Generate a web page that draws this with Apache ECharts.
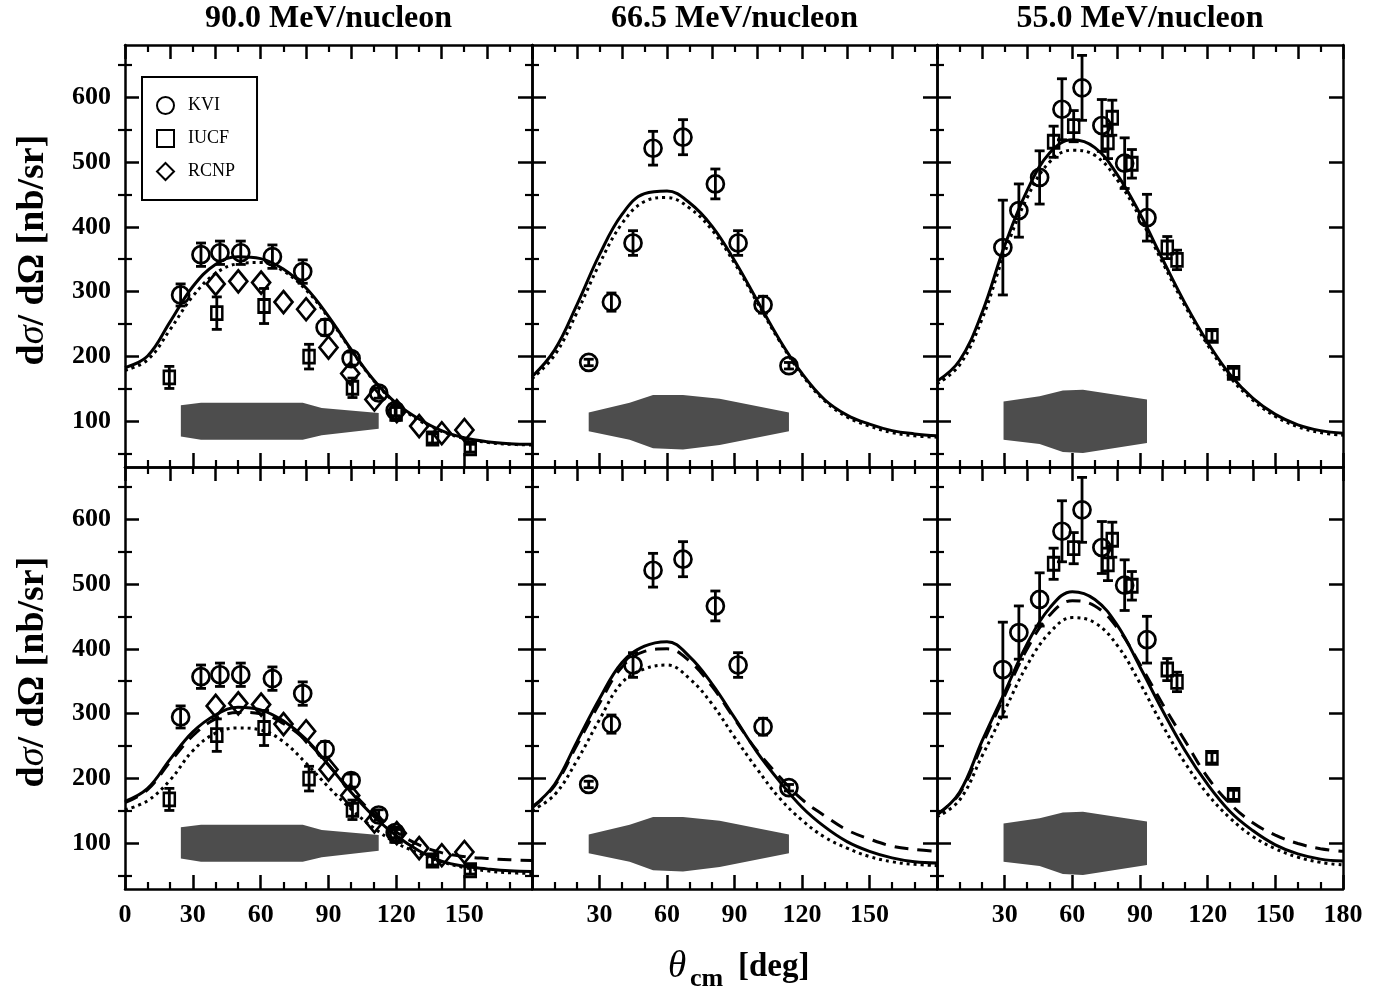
<!DOCTYPE html>
<html><head><meta charset="utf-8">
<script src="https://cdn.jsdelivr.net/npm/echarts@6/dist/echarts.min.js"></script>
<style>html,body{margin:0;padding:0;background:#fff}#c{width:1393px;height:994px}</style>
</head><body><div id="c"></div>
<script>
// ---------------- data ----------------
const panelTitles = ['90.0 MeV/nucleon', '66.5 MeV/nucleon', '55.0 MeV/nucleon'];
const angles = [0,10,20,30,40,50,60,70,80,90,100,110,120,130,140,150,160,170,180];

// theory curves (values at the angles above)
const solid90Top  = [183,201,254,308,342,354,351,335,306,262,211,164,128,104,86,75,69,66,65];
const dotted90Top = [179,195,242,293,328,343,345,332,303,260,210,163,127,102,85,74,68,65,64];
const solid90Bot  = [165,185,230,272,298,310,306,289,261,221,179,142,112,89,73,65,61,58,57];
const dashed90Bot = [163,183,226,266,292,302,300,285,259,221,181,146,118,98,86,80,77,75,74];
const dotted90Bot = [152,166,198,243,270,278,275,257,224,187,153,124,101,85,72,63,58,55,54];

const solid66Top  = [169,210,280,357,419,451,455,437,401,348,287,226,174,134,110,96,86,81,78];
const dotted66Top = [166,202,268,343,405,439,445,429,395,344,284,224,172,132,107,93,83,78,76];
const solid66Bot  = [156,191,257,323,379,404,411,388,346,294,241,196,156,126,103,88,78,72,70];
const dashed66Bot = [155,189,252,316,372,396,400,381,342,292,243,203,168,143,121,107,96,91,88];
const dotted66Bot = [151,175,228,291,348,369,375,354,315,264,215,170,136,110,93,80,72,68,66];

const solid55Top  = [162,194,268,371,456,514,534,522,480,420,350,282,222,172,136,111,95,86,82];
const dotted55Top = [158,187,258,360,445,500,518,510,472,414,345,278,218,168,133,108,92,83,79];
const solid55Bot  = [144,179,258,333,408,463,488,476,436,372,305,243,191,149,120,98,84,76,73];
const dashed55Bot = [145,177,252,328,400,452,474,466,432,376,315,258,202,161,132,113,100,92,88];
const dotted55Bot = [141,167,235,305,375,425,448,440,405,347,282,224,176,139,111,92,79,71,67];

// measurements: [angle, value, error]
const kvi90  = [[24.6,295,17],[33.6,357,18],[42.0,360,18],[51.2,360,18],[65.2,354,18],[78.6,331,18],[88.5,245,12],[100.0,197,10],[112.2,144,8],[119.5,117,8]];
const iucf90 = [[19.6,168,17],[40.6,267,25],[61.5,278,27],[81.4,200,19],[100.6,152,15],[119.9,112,10],[136.0,74,7],[152.7,59,6]];
const rcnp90 = [[40.1,312],[50.1,316],[60.2,314],[70.1,284],[80.1,273],[90.0,214],[99.6,174],[110.3,134],[120.2,116],[130.1,93],[140.1,82],[150.1,87]];
const kvi66  = [[25.2,191,5],[35.3,284,14],[44.9,375,19],[53.8,521,26],[67.1,538,27],[81.5,466,23],[91.6,375,19],[102.7,280,13],[114.2,186,5]];
const kvi55  = [[29.2,368,73],[36.3,425,41],[45.5,476,41],[55.4,581,47],[64.3,614,50],[73.1,556,40],[83.2,498,39],[93.1,414,36]];
const iucf55 = [[51.7,531,24],[60.6,555,24],[75.8,530,25],[77.7,568,27],[86.4,497,22],[102.1,368,17],[106.4,349,15],[121.9,232,8],[131.5,175,7]];

// grey bands
const band90Angle = [24.7,33.6,78.6,87.0,112.2];
const band90Upper = [125,129,129,121,113];
const band90Lower = [77,72,72,79,89];
const band66Angle = [25.2,43.4,53.8,67.1,83.4,114.2];
const band66Upper = [114,129,141,141,135,114];
const band66Lower = [85,72,59,57,64,85];
const band55Angle = [29.5,45.5,55.8,64.7,93.1];
const band55Upper = [131,139,148,149,134];
const band55Lower = [72,65.5,53,51.5,67];

// ticks
const xTickLabels = [[0,30,60,90,120,150],[30,60,90,120,150],[30,60,90,120,150,180]];
const yTickLabels = [100,200,300,400,500,600];
const yMinorTicks = [50,150,250,350,450,550,650];

// ---------------- layout ----------------
const FONT = '"Liberation Serif", "Times New Roman", serif';
const gridLeft = [125, 532, 937];
const gridWidth = [407, 405, 406];
const gridTop = [45, 467];
const gridHeight = 422;

const panels = [
  {row:0,col:0, curves:[['solid',solid90Top],['dotted',dotted90Top]], kvi:kvi90, iucf:iucf90, rcnp:rcnp90, band:[band90Angle,band90Upper,band90Lower]},
  {row:0,col:1, curves:[['solid',solid66Top],['dotted',dotted66Top]], kvi:kvi66, band:[band66Angle,band66Upper,band66Lower]},
  {row:0,col:2, curves:[['solid',solid55Top],['dotted',dotted55Top]], kvi:kvi55, iucf:iucf55, band:[band55Angle,band55Upper,band55Lower]},
  {row:1,col:0, curves:[['solid',solid90Bot],['dashed',dashed90Bot],['dotted',dotted90Bot]], kvi:kvi90, iucf:iucf90, rcnp:rcnp90, band:[band90Angle,band90Upper,band90Lower]},
  {row:1,col:1, curves:[['solid',solid66Bot],['dashed',dashed66Bot],['dotted',dotted66Bot]], kvi:kvi66, band:[band66Angle,band66Upper,band66Lower]},
  {row:1,col:2, curves:[['solid',solid55Bot],['dashed',dashed55Bot],['dotted',dotted55Bot]], kvi:kvi55, iucf:iucf55, band:[band55Angle,band55Upper,band55Lower]}
];

const lineTypes = {solid:'solid', dashed:[14,9], dotted:[3,4]};
const axisLineStyle = {color:'#000', width:2.5};

function bandRenderer(xs, hi, lo) {
  return function (params, api) {
    const pts = [];
    for (let i = 0; i < xs.length; i++) pts.push(api.coord([xs[i], hi[i]]));
    for (let i = xs.length - 1; i >= 0; i--) pts.push(api.coord([xs[i], lo[i]]));
    return {type:'polygon', shape:{points:pts}, style:{fill:'#4d4d4d'}};
  };
}
function errRender(params, api) {
  const x = api.value(0), y = api.value(1), e = api.value(2);
  const hi = api.coord([x, y + e]), lo = api.coord([x, y - e]);
  const w = 5, st = {stroke:'#000', lineWidth:2.8};
  return {type:'group', children:[
    {type:'line', shape:{x1:hi[0], y1:hi[1], x2:lo[0], y2:lo[1]}, style:st},
    {type:'line', shape:{x1:hi[0]-w, y1:hi[1], x2:hi[0]+w, y2:hi[1]}, style:st},
    {type:'line', shape:{x1:lo[0]-w, y1:lo[1], x2:lo[0]+w, y2:lo[1]}, style:st}
  ]};
}

const grids = [], xAxes = [], yAxes = [], series = [];
panels.forEach((p, g) => {
  grids.push({left:gridLeft[p.col], top:gridTop[p.row], width:gridWidth[p.col], height:gridHeight, containLabel:false, outerBoundsMode:'none'});
  const labelStyle = {color:'#000', fontFamily:FONT, fontWeight:'bold', fontSize:26};
  xAxes.push({gridIndex:g, type:'value', min:0, max:180, interval:30, position:'bottom',
    axisLine:{show:true, onZero:false, lineStyle:axisLineStyle},
    axisTick:{show:true, inside:true, length:14, lineStyle:{color:'#000', width:2.5}},
    minorTick:{show:true, splitNumber:3, length:7, lineStyle:{color:'#000', width:2.2}},
    splitLine:{show:false}, minorSplitLine:{show:false},
    axisLabel: p.row === 1 ? Object.assign({show:true, customValues:xTickLabels[p.col], margin:13}, labelStyle) : {show:false}
  });
  xAxes.push({gridIndex:g, type:'value', min:0, max:180, interval:20, position:'top',
    axisLine:{show:true, onZero:false, lineStyle:axisLineStyle},
    axisTick:{show:true, inside:true, length:14, lineStyle:{color:'#000', width:2.5}},
    minorTick:{show:true, splitNumber:2, length:7, lineStyle:{color:'#000', width:2.2}},
    splitLine:{show:false}, minorSplitLine:{show:false}, axisLabel:{show:false}
  });
  ['left','right'].forEach(pos => {
    yAxes.push({gridIndex:g, type:'value', min:30, max:680, position:pos,
      axisLine:{show:true, onZero:false, lineStyle:axisLineStyle},
      axisTick:{show:true, inside:true, length:14, customValues:yTickLabels, lineStyle:{color:'#000', width:2.5}},
      splitLine:{show:false},
      axisLabel: (pos === 'left' && p.col === 0) ? Object.assign({show:true, customValues:yTickLabels, margin:14}, labelStyle) : {show:false}
    });
    yAxes.push({gridIndex:g, type:'value', min:30, max:680, position:pos,
      axisLine:{show:false},
      axisTick:{show:true, inside:true, length:7, customValues:yMinorTicks, lineStyle:{color:'#000', width:2.2}},
      splitLine:{show:false}, axisLabel:{show:false}
    });
  });
  const xi = 2 * g, yi = 4 * g;
  series.push({type:'custom', xAxisIndex:xi, yAxisIndex:yi, silent:true, z:1,
    renderItem: bandRenderer(p.band[0], p.band[1], p.band[2]), data:[[p.band[0][0], p.band[1][0]]]});
  p.curves.forEach(([kind, arr]) => {
    series.push({type:'line', xAxisIndex:xi, yAxisIndex:yi, silent:true, z:3, smooth:0.4,
      showSymbol:false, symbol:'none',
      lineStyle:{color:'#000', width:3, type:lineTypes[kind], cap:'butt', opacity:1},
      data: angles.map((a, i) => [a, arr[i]])});
  });
  [['KVI', p.kvi, 'circle', 17], ['IUCF', p.iucf, 'rect', [11, 13]], ['RCNP', p.rcnp, 'diamond', [18, 22]]].forEach(([name, d, sym, size]) => {
    if (!d) return;
    if (d[0].length > 2) {
      series.push({type:'custom', xAxisIndex:xi, yAxisIndex:yi, silent:true, z:4, renderItem:errRender, data:d});
    }
    series.push({type:'scatter', name, xAxisIndex:xi, yAxisIndex:yi, silent:true, z:5,
      symbol:sym, symbolSize:size,
      itemStyle:{color:'rgba(0,0,0,0)', borderColor:'#000', borderWidth:2.7, opacity:1},
      emphasis:{disabled:true},
      data: d.map(v => [v[0], v[1]])});
  });
});

const graphics = [];
const titleX = [328.5, 734.5, 1140];
panelTitles.forEach((t, i) => graphics.push({type:'text', x:titleX[i], y:19,
  style:{text:t, fontFamily:FONT, fontWeight:'bold', fontSize:32, fill:'#000', align:'center', verticalAlign:'middle'}}));
[250, 672].forEach(y => graphics.push({type:'text', x:33, y, rotation:Math.PI/2,
  style:{text:'{b|d}{i|σ}{b|/ dΩ [nb/sr]}', align:'center', verticalAlign:'middle',
    rich:{b:{fontFamily:FONT, fontWeight:'bold', fontSize:38, fill:'#000'},
          i:{fontFamily:FONT, fontStyle:'italic', fontSize:38, fill:'#000'}}}}));
graphics.push({type:'text', x:668, y:967, style:{text:'θ', fontFamily:FONT, fontStyle:'italic', fontSize:37, fill:'#000', align:'left', verticalAlign:'middle'}});
graphics.push({type:'text', x:690, y:979, style:{text:'cm', fontFamily:FONT, fontWeight:'bold', fontSize:26, fill:'#000', align:'left', verticalAlign:'middle'}});
graphics.push({type:'text', x:738, y:967, style:{text:'[deg]', fontFamily:FONT, fontWeight:'bold', fontSize:33, fill:'#000', align:'left', verticalAlign:'middle'}});

const chart = echarts.init(document.getElementById('c'), null, {renderer:'canvas'});
chart.setOption({
  animation:false,
  backgroundColor:'#fff',
  grid:grids, xAxis:xAxes, yAxis:yAxes, series,
  legend:{show:true, data:[{name:'KVI', icon:'circle'},{name:'IUCF', icon:'rect'},{name:'RCNP', icon:'diamond'}],
    orient:'vertical', left:142, top:77, padding:[19,22,19,14], itemGap:14, itemWidth:17, itemHeight:17,
    selectedMode:false, backgroundColor:'#fff', borderColor:'#000', borderWidth:2, borderRadius:0,
    textStyle:{fontFamily:FONT, fontSize:18, color:'#000', padding:[0,0,0,9]},
    itemStyle:{color:'rgba(0,0,0,0)', borderColor:'#000', borderWidth:2, opacity:1}},
  graphic:graphics
});
</script>
</body></html>
